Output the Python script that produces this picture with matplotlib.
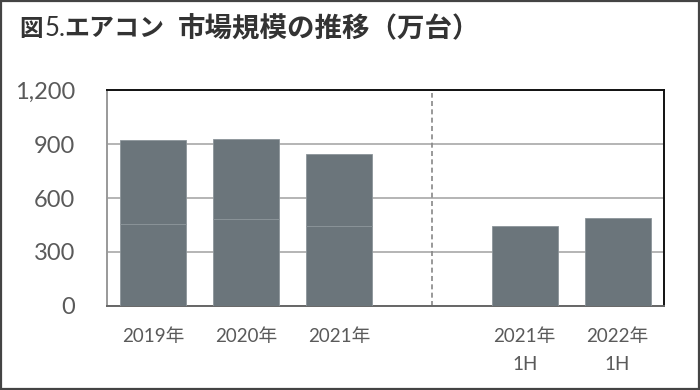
import matplotlib
matplotlib.use('Agg')
import matplotlib.pyplot as plt
from matplotlib.patches import Rectangle

# data (万台)
annual_labels = ['2019年', '2020年', '2021年']
annual_first = [454, 483, 446]
annual_second = [468, 443, 398]
half_labels = ['2021年\n1H', '2022年\n1H']
half_values = [446, 491]

bar_color = '#6b757b'
edge_color = '#8c959a'
text_color = '#5a5a5a'

plt.rcParams['font.family'] = ['Lato', 'Noto Sans CJK JP', 'DejaVu Sans']

fig = plt.figure(figsize=(7, 3.9), dpi=100)
ax = fig.add_axes([0.1529, 0.2154, 0.7957, 0.5538])

x_annual = list(range(len(annual_labels)))
x_half = [len(annual_labels) + 1 + i for i in range(len(half_labels))]
w = 0.71

ax.bar(x_annual, annual_first, width=w, color=bar_color, edgecolor=edge_color, linewidth=0.6, zorder=3)
ax.bar(x_annual, annual_second, bottom=annual_first, width=w, color=bar_color,
       edgecolor=edge_color, linewidth=0.6, zorder=3)
ax.bar(x_half, half_values, width=w, color=bar_color, edgecolor=edge_color, linewidth=0.6, zorder=3)

# separator between annual and half-year
ax.axvline(len(annual_labels), ymin=0, ymax=0.985, color='#888888', linestyle=(0, (3, 2)),
           linewidth=1.2, zorder=2)

ax.set_xlim(-0.5, len(annual_labels) + len(half_labels) + 0.5)
ax.set_ylim(0, 1200)
ax.set_yticks([0, 300, 600, 900, 1200])
ax.set_yticklabels(['0', '300', '600', '900', '1,200'], fontsize=17, color=text_color)
ax.yaxis.grid(True, color='#b4b4b4', linewidth=1.4, zorder=1)
ax.set_axisbelow(True)

ax.set_xticks(x_annual + x_half)
ax.set_xticklabels(annual_labels + half_labels, fontsize=13.5, color=text_color,
                   linespacing=1.75, va='top')
ax.tick_params(axis='both', length=0)
ax.tick_params(axis='y', pad=23)
ax.tick_params(axis='x', pad=16)

ax.spines['top'].set_color('#111111')
ax.spines['right'].set_color('#111111')
ax.spines['left'].set_color('#999999')
ax.spines['bottom'].set_color('#666666')
for s in ax.spines.values():
    s.set_linewidth(1.4)

# title in pieces
ty = 1 - 29 / 390
fig.text(19 / 700, ty, '図', fontsize=17, fontweight='bold', family=['Noto Sans CJK JP'],
         color='#333333', va='center')
fig.text(45 / 700, ty, '5.', fontsize=18.5, family=['Lato'], color='#333333', va='center')
fig.text(64 / 700, ty, 'エアコン', fontsize=18, fontweight='bold', family=['Noto Sans CJK JP'],
         color='#333333', va='center')
fig.text(178 / 700, ty, '市場規模の推移（万台）', fontsize=19.8, fontweight='bold',
         family=['Noto Sans CJK JP'], color='#333333', va='center')

fig.patches.append(Rectangle((0.001, 0.002), 0.997, 0.995, transform=fig.transFigure,
                             fill=False, edgecolor='#444444', linewidth=1.6))

fig.savefig('out.png', dpi=100)
